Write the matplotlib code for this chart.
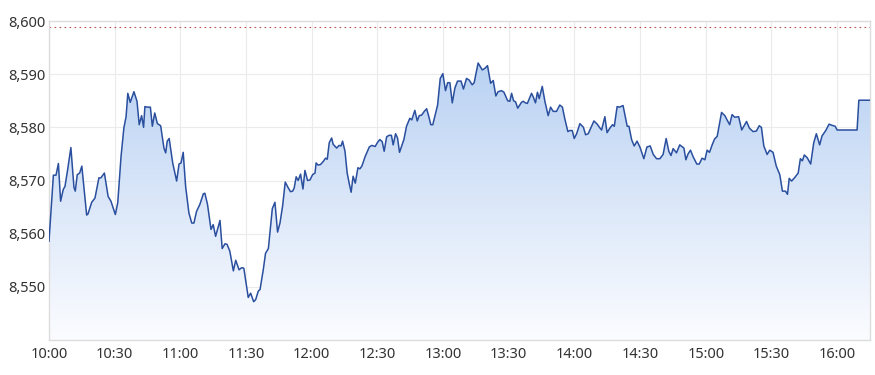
import matplotlib
matplotlib.use("Agg")
import matplotlib.pyplot as plt
import numpy as np
from matplotlib.colors import LinearSegmentedColormap

# minutes after 10:00 and index level
minutes = [
    0, 2, 3.2, 4.3, 5.3, 6.5, 7.3, 8.5, 10, 11.4,
    12, 12.9, 14, 15, 17.2, 17.8, 19.5, 21, 22.8, 23.7,
    25.3, 27, 28.3, 30.3, 31.4, 32.9, 34.2, 35.2, 36, 37.1,
    38.8, 40.2, 41.2, 42.3, 43.2, 43.8, 44.9, 46.3, 47.2, 48.3,
    49.5, 51, 52.5, 53.3, 54, 54.9, 56.5, 58.3, 59.4, 60.3,
    61.3, 62.4, 63.9, 65.2, 66.2, 67.4, 68.9, 70.5, 71.2, 72.4,
    74, 75, 76.1, 78.1, 79.1, 80.4, 81.3, 82.6, 84.2, 85.3,
    86.8, 88, 89, 91, 92.1, 93.5, 94.4, 95.6, 96.4, 97.9,
    98.9, 100.2, 102, 103.2, 104.4, 105.5, 106.7, 107.9, 109.3, 110.3,
    111.3, 112, 112.9, 113.8, 114.9, 116, 116.9, 118.1, 119.2, 120.4,
    121.5, 122, 122.9, 124, 125.3, 126.3, 127.1, 128, 129.1, 129.8,
    131.4, 132.5, 133.4, 134.1, 135.2, 136.2, 137.1, 138, 138.9, 139.9,
    141.1, 142, 142.9, 144.4, 146.3, 147.4, 149, 150.1, 151.1, 152.2,
    153.1, 154.2, 155.3, 156.4, 157.2, 158.3, 159.2, 160.1, 161, 162.1,
    163.3, 164.8, 165.7, 167.1, 168.2, 169.1, 170.2, 171.4, 172.5, 173.5,
    174.4, 175.3, 177.5, 178.7, 179.9, 181.1, 182.1, 183.1, 184.2, 185.4,
    186.6, 188.2, 189.3, 190.7, 191.9, 193.3, 194.2, 196, 197.9, 199.1,
    200.3, 201.7, 202.9, 204.1, 205.1, 206.7, 207.8, 209.5, 210.5, 211.3,
    212.2, 213.1, 214.1, 215.8, 216.6, 217.6, 218.5, 220.4, 221.1, 222.2,
    223.1, 223.9, 225.3, 226.5, 228, 229.1, 230.3, 231.8, 233.3, 234.5,
    235.6, 237, 237.9, 239, 239.9, 241, 242.5, 244.1, 245.1, 246.3,
    247.5, 248.9, 250.4, 251.6, 252.4, 253.9, 254.9, 256.1, 257.4, 258.2,
    259.5, 260.6, 262.2, 264.1, 264.9, 266.1, 267.3, 268.6, 269.9, 271.7,
    273.1, 274.6, 276, 277.5, 279, 280.5, 281.9, 283.1, 284.1, 285.1,
    286.6, 288.1, 290, 290.9, 291.9, 293, 294.3, 295.9, 297, 298.3,
    299.6, 300.6, 301.7, 302.9, 304, 305.2, 307.2, 308.7, 309.7, 310.9,
    312, 313.2, 315, 316.4, 318.6, 320, 321.6, 323.1, 324.4, 325.4,
    326.5, 328, 329.2, 330.7, 332.2, 333.8, 335, 336.4, 337.3, 338.1,
    339.2, 340.7, 342.2, 343.2, 344.1, 345, 346.3, 347.9, 349.3, 350.5,
    352, 353.1, 354.8, 356.3, 357.5, 359.1, 360, 369.1, 369.9, 375,
]
prices = [
    8558.6, 8571.0, 8571.0, 8573.2, 8566.1, 8568.3, 8568.9, 8572.0, 8576.2, 8568.7,
    8568.0, 8571.1, 8571.4, 8572.7, 8563.5, 8563.7, 8565.9, 8566.7, 8570.5, 8570.5,
    8571.4, 8567.0, 8566.1, 8563.6, 8565.8, 8574.5, 8579.9, 8582.0, 8586.4, 8584.7,
    8586.7, 8584.9, 8580.5, 8582.2, 8580.0, 8583.9, 8583.8, 8583.8, 8580.2, 8582.7,
    8580.7, 8580.3, 8576.1, 8575.2, 8577.4, 8577.9, 8573.3, 8569.9, 8573.1, 8573.3,
    8575.3, 8568.9, 8563.9, 8562.0, 8562.0, 8564.2, 8565.5, 8567.5, 8567.6, 8565.5,
    8560.8, 8561.7, 8559.5, 8562.5, 8557.2, 8558.1, 8558.0, 8556.7, 8553.0, 8555.0,
    8553.2, 8553.6, 8553.5, 8548.0, 8548.8, 8547.2, 8547.6, 8549.2, 8549.5, 8553.3,
    8556.3, 8557.2, 8564.7, 8565.9, 8560.3, 8562.0, 8565.2, 8569.7, 8568.6, 8567.9,
    8568.0, 8568.6, 8570.7, 8570.0, 8571.2, 8568.4, 8571.9, 8570.0, 8570.1, 8571.1,
    8571.4, 8573.3, 8572.9, 8573.0, 8573.6, 8574.2, 8574.0, 8577.1, 8578.0, 8576.8,
    8576.1, 8576.6, 8576.5, 8577.4, 8575.5, 8571.4, 8569.5, 8567.8, 8570.8, 8569.5,
    8572.4, 8572.2, 8572.7, 8574.5, 8576.3, 8576.6, 8576.4, 8577.2, 8577.7, 8577.3,
    8575.5, 8578.2, 8578.5, 8578.5, 8576.7, 8578.8, 8578.0, 8575.3, 8576.4, 8577.7,
    8580.2, 8581.7, 8581.4, 8583.2, 8581.2, 8582.2, 8582.3, 8583.0, 8583.5, 8582.0,
    8580.5, 8580.5, 8584.2, 8589.2, 8590.1, 8586.9, 8588.4, 8588.4, 8584.6, 8587.4,
    8588.7, 8588.7, 8587.2, 8589.2, 8588.9, 8588.0, 8588.4, 8592.1, 8590.8, 8591.1,
    8591.6, 8588.3, 8588.8, 8585.9, 8586.7, 8586.9, 8586.6, 8585.0, 8584.9, 8586.4,
    8585.0, 8584.8, 8583.6, 8584.7, 8584.9, 8584.6, 8584.5, 8586.4, 8585.8, 8584.6,
    8586.6, 8585.4, 8587.7, 8584.9, 8582.2, 8583.8, 8583.0, 8583.0, 8584.2, 8583.8,
    8581.6, 8579.2, 8579.4, 8579.4, 8577.9, 8578.8, 8580.7, 8580.0, 8578.6, 8578.8,
    8579.9, 8581.2, 8580.6, 8579.9, 8579.5, 8582.0, 8579.0, 8579.8, 8580.5, 8580.2,
    8583.9, 8583.8, 8584.1, 8580.2, 8580.2, 8577.7, 8576.5, 8577.4, 8576.3, 8574.1,
    8576.3, 8576.5, 8574.9, 8574.1, 8574.1, 8574.9, 8577.9, 8575.5, 8574.7, 8576.0,
    8575.2, 8576.7, 8576.1, 8573.9, 8575.0, 8575.7, 8574.4, 8573.1, 8573.1, 8574.2,
    8573.9, 8575.7, 8575.3, 8576.7, 8577.8, 8578.3, 8582.8, 8582.2, 8581.4, 8580.5,
    8582.4, 8581.9, 8582.0, 8579.5, 8581.1, 8579.8, 8579.2, 8579.3, 8580.3, 8580.0,
    8576.5, 8574.9, 8575.7, 8575.3, 8572.7, 8571.1, 8568.0, 8568.0, 8567.4, 8570.4,
    8569.9, 8570.6, 8571.4, 8574.1, 8573.7, 8574.8, 8574.3, 8573.1, 8577.1, 8578.8,
    8576.7, 8578.4, 8579.4, 8580.6, 8580.4, 8580.2, 8579.5, 8579.5, 8585.1, 8585.1,
]
prev_close = 8598.9
tick_minutes = list(range(0, 361, 30))
tick_labels = ["10:00", "10:30", "11:00", "11:30", "12:00", "12:30", "13:00",
               "13:30", "14:00", "14:30", "15:00", "15:30", "16:00"]
y_ticks = [8550, 8560, 8570, 8580, 8590, 8600]

plt.rcParams['font.family'] = ['Noto Sans', 'DejaVu Sans']

fig = plt.figure(figsize=(8.75, 3.75), dpi=100)
ax = fig.add_axes([49 / 875, 35 / 375, 821 / 875, 319 / 375])

x_min, x_max = 0, 375
y_min, y_max = 8540, 8600
ax.set_xlim(x_min, x_max)
ax.set_ylim(y_min, y_max)

# gradient fill under the line
cmap = LinearSegmentedColormap.from_list("fade", ["#fbfcff", "#dbe7f9", "#b9d2f3"])
grad = np.linspace(0, 1, 256).reshape(-1, 1)
img = ax.imshow(grad, cmap=cmap, origin="lower", aspect="auto",
                extent=[x_min, x_max, y_min, 8592], zorder=1)
poly = ax.fill_between(minutes, prices, y_min, color="none", lw=0)
clip = poly.get_paths()[0]
img.set_clip_path(clip, transform=ax.transData)

ax.plot(minutes, prices, color="#2a4f9e", lw=1.1, zorder=3)
ax.axhline(prev_close, color="#c0504d", lw=0.8, ls=(0, (1.5, 3)), zorder=2)

ax.set_xticks(tick_minutes)
ax.set_xticklabels(tick_labels)
ax.set_yticks(y_ticks)
ax.set_yticklabels([f"{v:,}" for v in y_ticks])
for lab in ax.get_yticklabels():
    lab.set_horizontalalignment("left")
ax.tick_params(axis="y", length=0, pad=29.5, labelsize=10.5, labelcolor="#333333")
ax.tick_params(axis="x", length=0, pad=5, labelsize=10.5, labelcolor="#333333")

ax.grid(True, color="#ebebeb", lw=0.8, zorder=0)
ax.set_axisbelow(True)
for s in ax.spines.values():
    s.set_color("#dddddd")
    s.set_linewidth(1.0)

fig.savefig("out.png", dpi=100)
